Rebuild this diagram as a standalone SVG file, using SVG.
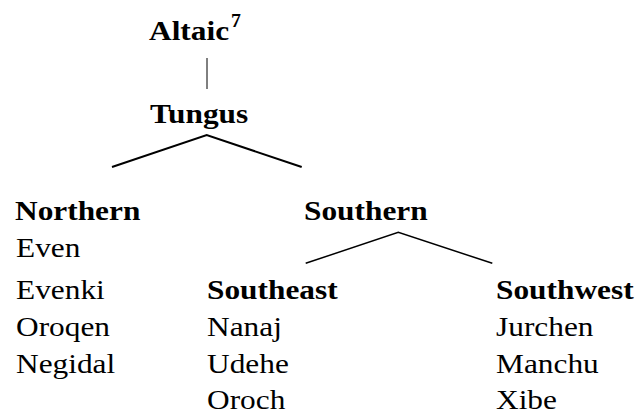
<svg xmlns="http://www.w3.org/2000/svg" width="639" height="415" viewBox="0 0 639 415">
<style>
text{font-family:"Liberation Serif","Times New Roman",serif;font-size:28px;fill:#000}
.b{font-weight:bold}
.sup{font-size:18px;font-weight:bold}
.c{stroke:#000;fill:none}
</style>
<rect width="639" height="415" fill="#fff"/>
<g id="connectors">
<line class="c" x1="207" y1="58" x2="207" y2="89" stroke-width="1"/>
<polyline class="c" points="112,167 206.7,135 301.7,167" stroke-width="2"/>
<polyline class="c" points="305.7,263.3 398.3,232.3 492.3,263.3" stroke-width="1.5"/>
</g>
<g id="altaic">
<text class="b" transform="translate(149,40) scale(1.12,1)">Altaic</text>
<text class="sup" transform="translate(231,27) scale(1.1,1)">7</text>
</g>
<g id="tungus"><text class="b" transform="translate(150,123) scale(1.12,1)">Tungus</text></g>
<g id="northern">
<text class="b" transform="translate(15,220) scale(1.12,1)">Northern</text>
<text transform="translate(16,257) scale(1.12,1)">Even</text>
<text transform="translate(16,299) scale(1.12,1)">Evenki</text>
<text transform="translate(16,336) scale(1.12,1)">Oroqen</text>
<text transform="translate(16,373) scale(1.12,1)">Negidal</text>
</g>
<g id="southern"><text class="b" transform="translate(304,220) scale(1.12,1)">Southern</text></g>
<g id="southeast">
<text class="b" transform="translate(207,299) scale(1.12,1)">Southeast</text>
<text transform="translate(207,336) scale(1.12,1)">Nanaj</text>
<text transform="translate(207,373) scale(1.12,1)">Udehe</text>
<text transform="translate(207,409) scale(1.12,1)">Oroch</text>
</g>
<g id="southwest">
<text class="b" transform="translate(496,299) scale(1.12,1)">Southwest</text>
<text transform="translate(496,336) scale(1.12,1)">Jurchen</text>
<text transform="translate(496,373) scale(1.12,1)">Manchu</text>
<text transform="translate(496,409) scale(1.12,1)">Xibe</text>
</g>
</svg>
